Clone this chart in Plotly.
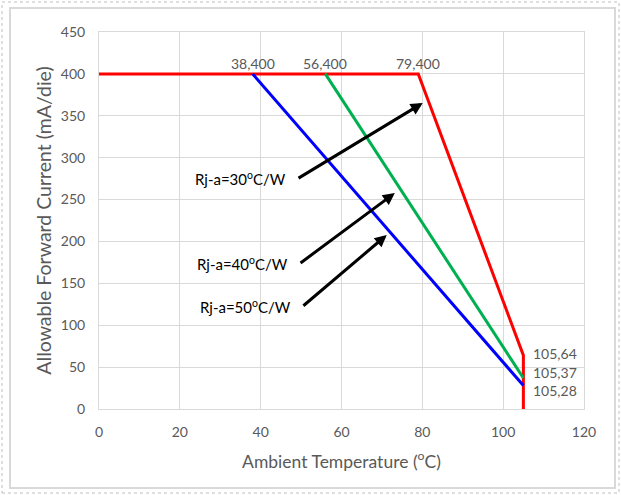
import plotly.graph_objects as go

# ---- data ----
red_x = [0, 79, 105, 105]
red_y = [400, 400, 64, 0]
blue_x = [38, 105]
blue_y = [400, 28]
green_x = [56, 105]
green_y = [400, 37]

top_labels = ["38,400", "56,400", "79,400"]
top_label_x = [38, 56, 79]
top_label_y = [400, 400, 400]

end_labels = ["105,64", "105,37", "105,28"]
end_label_x = [105, 105, 105]
end_label_y = [64, 37, 28]
end_label_shift = [2, 6, -5]

rj_labels = ["Rj-a=30<sup>o</sup>C/W", "Rj-a=40<sup>o</sup>C/W", "Rj-a=50<sup>o</sup>C/W"]
arrow_tail = [(49.0, 274.5), (49.5, 173.0), (50.2, 121.7)]
arrow_head = [(80.1, 365.2), (73.2, 257.8), (71.2, 207.7)]

x_ticks = [0, 20, 40, 60, 80, 100, 120]
y_ticks = [0, 50, 100, 150, 200, 250, 300, 350, 400, 450]

FONT = "Lato"
GRAY = "#595959"
GRID = "#D9D9D9"

fig = go.Figure()
fig.add_trace(go.Scatter(x=red_x, y=red_y, mode="lines",
                         line=dict(color="#FF0000", width=3), showlegend=False))
fig.add_trace(go.Scatter(x=green_x, y=green_y, mode="lines",
                         line=dict(color="#00B050", width=3), showlegend=False))
fig.add_trace(go.Scatter(x=blue_x, y=blue_y, mode="lines",
                         line=dict(color="#0000FF", width=3), showlegend=False))

annotations = []
for t, x, y in zip(top_labels, top_label_x, top_label_y):
    annotations.append(dict(x=x, y=y, text=t, showarrow=False, xanchor="center",
                            yanchor="bottom", yshift=0,
                            font=dict(family=FONT, size=14, color=GRAY)))
for t, x, y, s in zip(end_labels, end_label_x, end_label_y, end_label_shift):
    annotations.append(dict(x=x, y=y, text=t, showarrow=False, xanchor="left",
                            yanchor="middle", xshift=8, yshift=s,
                            font=dict(family=FONT, size=14, color=GRAY)))
for t, (tx, ty), (hx, hy) in zip(rj_labels, arrow_tail, arrow_head):
    annotations.append(dict(x=hx, y=hy, ax=tx, ay=ty, axref="x", ayref="y",
                            xref="x", yref="y", text="", showarrow=True,
                            arrowhead=2, arrowsize=0.8, arrowwidth=3,
                            arrowcolor="#000000"))
    annotations.append(dict(x=tx, y=ty, text=t, showarrow=False, xanchor="right",
                            yanchor="middle", xshift=-9, yshift=1,
                            font=dict(family=FONT, size=15, color="#000000")))

fig.update_layout(
    width=621, height=495,
    margin=dict(l=99, r=37, t=32, b=86),
    paper_bgcolor="white", plot_bgcolor="white",
    annotations=annotations,
    xaxis=dict(range=[0, 120], tickvals=x_ticks, showgrid=True, gridcolor=GRID,
               gridwidth=1, zeroline=False, showline=True, linecolor=GRID,
               mirror=True, ticks="outside", ticklen=10, tickcolor="rgba(0,0,0,0)",
               tickfont=dict(family=FONT, size=14, color=GRAY),
               title=dict(text="Ambient Temperature (<sup>o</sup>C)",
                          font=dict(family=FONT, size=17.5, color=GRAY), standoff=16)),
    yaxis=dict(range=[0, 450], tickvals=y_ticks, showgrid=True, gridcolor=GRID,
               gridwidth=1, zeroline=False, showline=True, linecolor=GRID,
               mirror=True, ticks="outside", ticklen=10, tickcolor="rgba(0,0,0,0)",
               tickfont=dict(family=FONT, size=14, color=GRAY),
               title=dict(text="Allowable Forward Current (mA/die)",
                          font=dict(family=FONT, size=19.5, color=GRAY), standoff=4)),
    shapes=[
        dict(type="rect", xref="paper", yref="paper",
             x0=(10 - 99) / 485, x1=(615 - 99) / 485,
             y0=(409 - 488) / 377, y1=(409 - 8) / 377,
             line=dict(color=GRID, width=2), layer="below"),
        dict(type="rect", xref="paper", yref="paper",
             x0=(2 - 99) / 485, x1=(619 - 99) / 485,
             y0=(409 - 493) / 377, y1=(409 - 2) / 377,
             line=dict(color="#BFBFBF", width=1, dash="dot"), layer="below"),
    ],
)

fig.write_html("out.html")
